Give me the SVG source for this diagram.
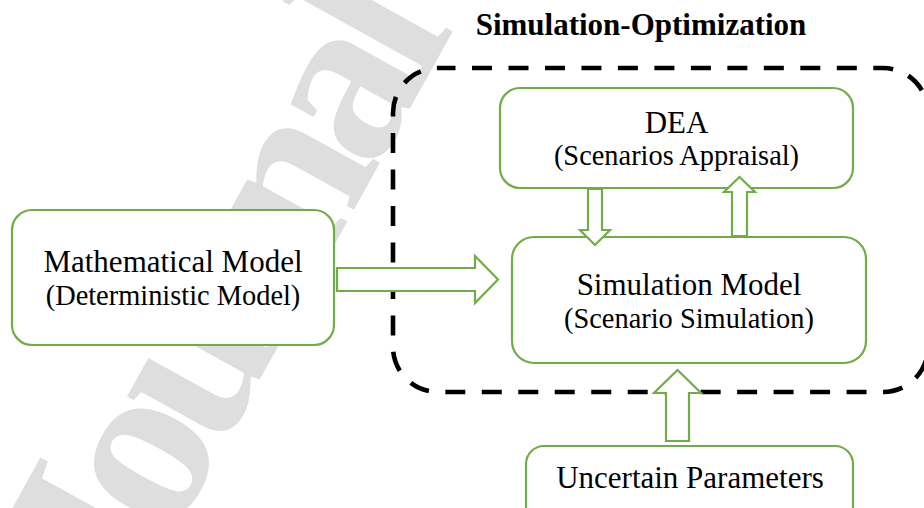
<svg xmlns="http://www.w3.org/2000/svg" width="924" height="508" viewBox="0 0 924 508">
<style>
.box{fill:#ffffff;stroke:#70ad47;stroke-width:2.2}
.arr{fill:#ffffff;stroke:#70ad47;stroke-width:2.2;stroke-linejoin:miter}
.t1{font-family:"Liberation Serif","Times New Roman",serif;font-size:31px;fill:#000;text-anchor:middle}
.t2{font-family:"Liberation Serif","Times New Roman",serif;font-size:28.4px;fill:#000;text-anchor:middle}
.title{font-family:"Liberation Serif","Times New Roman",serif;font-size:31px;font-weight:bold;fill:#000;text-anchor:middle}
.wm{font-family:"Liberation Serif","Times New Roman",serif;font-size:235px;font-weight:bold;letter-spacing:-16px;fill:#dedede}
.dash{fill:none;stroke:#000;stroke-width:4.6;stroke-dasharray:20 16.48;stroke-dashoffset:2.48}
</style>
<rect width="924" height="508" fill="#ffffff"/>
<text class="wm" transform="translate(121.3,629.2) rotate(-61)">Journal Pre-proof</text>
<g id="simulation-optimization">
<path class="dash" d="M438,68 H883 A45,45 0 0 1 928,113 V347 A45,45 0 0 1 883,392 H438 A45,45 0 0 1 393,347 V113 A45,45 0 0 1 438,68 Z"/>
<text class="title" x="641" y="35">Simulation-Optimization</text>
</g>
<g id="mathematical-model">
<rect class="box" x="12" y="210" width="322" height="135" rx="20" ry="20"/>
<text class="t1" x="173" y="272">Mathematical Model</text>
<text class="t2" x="173" y="305">(Deterministic Model)</text>
</g>
<g id="dea">
<rect class="box" x="500" y="88" width="353" height="100" rx="20" ry="20"/>
<text class="t1" x="676.5" y="133">DEA</text>
<text class="t2" x="676.5" y="165">(Scenarios Appraisal)</text>
</g>
<g id="simulation-model">
<rect class="box" x="512" y="237" width="354" height="126" rx="22" ry="22"/>
<text class="t1" x="689" y="295">Simulation Model</text>
<text class="t2" x="689" y="328">(Scenario Simulation)</text>
</g>
<g id="uncertain-parameters">
<rect class="box" x="526" y="446" width="327" height="80" rx="18" ry="18"/>
<text class="t1" x="690" y="488">Uncertain Parameters</text>
</g>
<g id="connectors">
<polygon class="arr" points="337,268 475,268 475,256 498,279.5 475,303 475,291 337,291"/>
<polygon class="arr" points="588,189 602,189 602,230 610,230 595,245 580,230 588,230"/>
<polygon class="arr" points="732,236 747,236 747,192 755,192 739.5,177 724,192 732,192"/>
<polygon class="arr" points="666,441 689,441 689,393 701,393 677.5,370 654,393 666,393"/>
</g>
</svg>
